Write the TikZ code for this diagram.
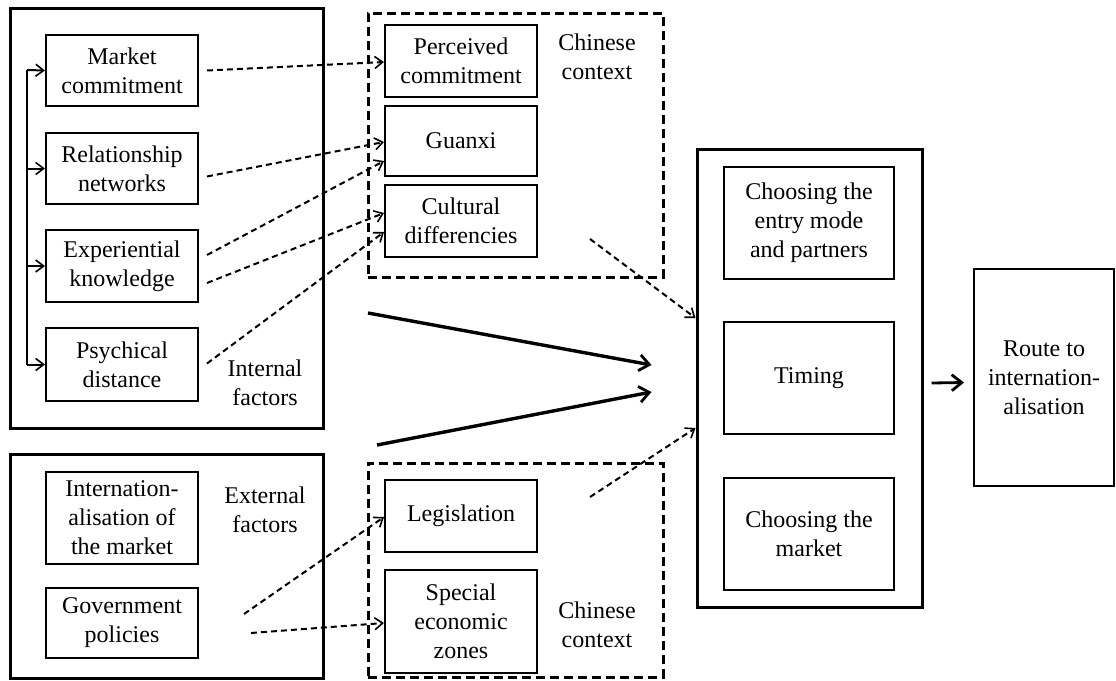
\documentclass[tikz,border=0pt]{standalone}
\usepackage{fontspec}
\setmainfont{Liberation Serif}
\usetikzlibrary{arrows.meta,calc}

\begin{document}
\begin{tikzpicture}[x=1pt,y=-1pt,
  txt/.style={font=\fontsize{24}{29}\selectfont, align=center, inner sep=0pt},
  outerbox/.style={draw, line width=3pt, inner sep=0pt},
  ctxbox/.style={draw, line width=3pt, dash pattern=on 9pt off 5pt, inner sep=0pt},
  factor/.style={txt, draw, line width=2pt, minimum width=152pt},
  choice/.style={txt, draw, line width=2.2pt, minimum width=170pt, minimum height=112pt},
  link/.style={line width=2pt, dash pattern=on 6pt off 4pt,
    -{Straight Barb[length=8pt,width=12pt,line width=1.6pt]}},
  spine/.style={line width=2pt},
  spinearrow/.style={line width=2pt, -{Straight Barb[length=8pt,width=12pt,line width=1.6pt]}},
  flow/.style={line width=3.4pt, -{Straight Barb[length=10pt,width=16pt,line width=2.8pt]}}
]
\useasboundingbox (0,0) rectangle (1116,680);

% internal factors
\node[outerbox, minimum width=313pt, minimum height=420pt] (intbox) at (166.5,218) {};
\node[factor, minimum height=71pt] (mc) at (122,70.5) {Market\\commitment};
\node[factor, minimum height=71pt] (rn) at (122,168.5) {Relationship\\networks};
\node[factor, minimum height=72pt] (ek) at (122,266) {Experiential\\knowledge};
\node[factor, minimum height=73pt] (pd) at (122,364.5) {Psychical\\distance};
\node[txt] (intlab) at (265,383) {Internal\\factors};

% external factors
\node[outerbox, minimum width=313pt, minimum height=224pt] (extbox) at (166.5,566) {};
\node[factor, minimum height=92pt] (im) at (122,518) {Internation-\\alisation of\\the market};
\node[factor, minimum height=70pt] (gp) at (122,623) {Government\\policies};
\node[txt] (extlab) at (265,510) {External\\factors};

% Chinese context, upper
\node[ctxbox, minimum width=295pt, minimum height=264pt] (cc1) at (515.5,145) {};
\node[factor, minimum height=72pt] (pc) at (461,61) {Perceived\\commitment};
\node[factor, minimum height=70pt] (gx) at (461,141) {Guanxi};
\node[factor, minimum height=72pt] (cd) at (461,221) {Cultural\\differencies};
\node[txt] (cclab1) at (597,57) {Chinese\\context};

% Chinese context, lower
\node[ctxbox, minimum width=295pt, minimum height=214pt] (cc2) at (515.5,570) {};
\node[factor, minimum height=72pt] (lg) at (461,516) {Legislation};
\node[factor, minimum height=103pt] (sez) at (461,621.5) {Special\\economic\\zones};
\node[txt] (cclab2) at (597,625) {Chinese\\context};

% decisions
\node[outerbox, minimum width=225pt, minimum height=458pt] (dec) at (809.5,378) {};
\node[choice] (em) at (809,223) {Choosing the\\entry mode\\and partners};
\node[choice] (tm) at (809,378) {Timing};
\node[choice] (cm) at (809,534) {Choosing the\\market};

% outcome
\node[txt, draw, line width=2pt, minimum width=140pt, minimum height=217pt] (route) at (1044,377.5) {Route to\\internation-\\alisation};

% bracket linking the internal factors
\coordinate (sp) at (27,70);
\draw[spine] (sp) -- (sp |- pd.west);
\draw[spinearrow] (sp) -- (mc.west);
\draw[spinearrow] (sp |- rn.west) -- (rn.west);
\draw[spinearrow] (sp |- ek.west) -- (ek.west);
\draw[spinearrow] (sp |- pd.west) -- (pd.west);

% internal factors seen in the Chinese context
\draw[link] ($(mc.east)+(8,0)$) -- ($(pc.west)+(0,1)$);
\draw[link] ($(rn.east)+(8,8)$) -- ($(gx.west)+(0,1)$);
\draw[link] ($(ek.east)+(8,-11)$) -- ($(gx.west)+(0,20)$);
\draw[link] ($(ek.east)+(8,17)$) -- ($(cd.west)+(0,-8)$);
\draw[link] ($(pd.east)+(8,-1)$) -- ($(cd.west)+(0,11)$);

% external factors seen in the Chinese context
\draw[link] ($(gp.east)+(45,-9)$) -- ($(lg.west)+(0,1)$);
\draw[link] ($(gp.east)+(52,10)$) -- ($(sez.west)+(0,1.5)$);

% Chinese context into the decisions
\coordinate (c1out) at (590,239);
\coordinate (c2out) at (590,497);
\draw[link] (c1out) -- ($(dec.west)+(0,-60)$);
\draw[link] (c2out) -- ($(dec.west)+(0,50)$);

% factor groups into the decisions
\coordinate (f1) at (368,313);
\coordinate (f2) at (377,445);
\draw[flow] (f1) -- ($(dec.west)+(-44,-13)$);
\draw[flow] (f2) -- ($(dec.west)+(-44,14)$);

% decisions to the route
\draw[flow, line width=2.8pt] ($(dec.east)+(8,5)$) -- ($(route.west)+(-9,5)$);
\end{tikzpicture}
\end{document}
